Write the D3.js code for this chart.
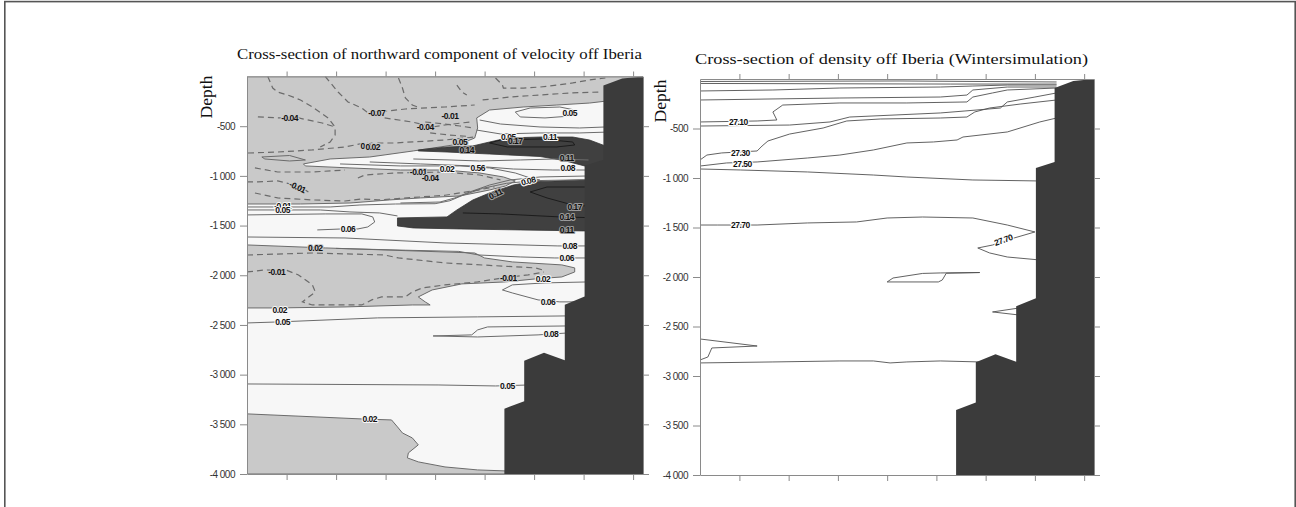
<!DOCTYPE html>
<html><head><meta charset="utf-8">
<script src="https://cdn.jsdelivr.net/npm/d3@7"></script>
<style>
html,body{margin:0;padding:0;background:#fff;}
svg{display:block;}
</style></head><body>
<svg id="c" width="1296" height="507"></svg>
<script>
// ================= DATA =================
const xTickValues = [40, 90, 140, 190, 240, 290, 340, 390];           // distance (km), unlabelled
const yTickValues = [-500, -1000, -1500, -2000, -2500, -3000, -3500, -4000];
const yTickLabels = ["-500", "-1 000", "-1 500", "-2 000", "-2 500", "-3 000", "-3 500", "-4 000"];
const titles = ["Cross-section of northward component of velocity off Iberia",
                "Cross-section of density off Iberia (Wintersimulation)"];
const axisTitle = "Depth";

// bathymetry (km, m)
const bathymetry = [[360,-91],[379,-20],[400,0],[400,-4000],[260,-4000],[260,-3343],[280,-3268],[280,-2860],
  [300,-2780],[321,-2855],[321,-2296],[341,-2215],[341,-899],[360,-838]];

// velocity: regions below 0.02 (light grey)
const velLowTop = [[0,0],[400,0],[400,-246],[364,-246],[346,-267],[313,-287],[279,-307],[245,-337],[232,-417],
  [233,-518],[230,-619],[215,-679],[195,-709],[168,-749],[124,-810],[84,-830],[57,-880],[59,-900],[104,-920],
  [155,-941],[200,-941],[235,-971],[259,-1011],[271,-1051],[261,-1102],[245,-1142],[215,-1202],[175,-1222],
  [144,-1242],[104,-1273],[54,-1283],[0,-1283]];
const velLowMid = [[0,-1695],[79,-1725],[230,-1776],[240,-1826],[268,-1866],[318,-1896],[331,-1926],[331,-1967],
  [318,-2017],[291,-2037],[261,-2067],[217,-2087],[187,-2148],[173,-2218],[180,-2268],[185,-2299],[167,-2299],
  [99,-2319],[31,-2329],[0,-2329]];
const velLowBottom = [[0,-3395],[116,-3446],[146,-3456],[152,-3526],[157,-3587],[167,-3637],[173,-3707],
  [163,-3788],[162,-3838],[173,-3878],[200,-3929],[233,-3959],[261,-3969],[261,-4000],[0,-4000]];
// velocity: cores above 0.11 (dark)
const velCoreUpper = [[173,-739],[202,-709],[228,-699],[245,-659],[263,-619],[296,-609],[329,-609],[346,-639],
  [362,-699],[366,-900],[341,-900],[320,-845],[296,-805],[245,-780],[202,-760],[173,-749]];
const velCoreLower = [[152,-1423],[202,-1413],[212,-1343],[228,-1243],[245,-1172],[269,-1092],[286,-1061],
  [336,-1041],[357,-1041],[357,-1554],[340,-1554],[276,-1544],[215,-1534],[168,-1524],[152,-1504]];

// velocity: positive contour lines (solid)
const velSolid = [
  [[271,-357],[286,-317],[316,-307],[331,-337],[328,-397],[301,-417],[276,-407],[271,-357]],
  [[235,-438],[256,-478],[296,-508],[336,-518],[362,-508]],
  [[232,-539],[256,-578],[296,-568],[336,-568],[362,-560]],
  [[15,-810],[43,-795],[59,-840],[43,-850],[18,-830],[15,-810]],
  [[168,-830],[205,-840],[235,-850],[276,-840],[311,-830],[345,-840]],
  [[124,-860],[175,-880],[228,-900],[269,-931],[309,-941],[345,-941]],
  [[94,-880],[155,-900],[215,-900],[245,-920],[271,-971],[286,-1021],[296,-1041]],
  [[155,-1273],[195,-1263],[210,-1222],[225,-1162],[245,-1092],[266,-1041],[296,-1011],[345,-1001]],
  [[0,-1313],[84,-1313],[114,-1293],[150,-1283],[190,-1280],[205,-1250],[218,-1195],[238,-1125],[262,-1075],[290,-1048],[345,-1038]],
  [[0,-1343],[74,-1343],[104,-1363],[134,-1373],[152,-1403]],
  [[71,-1544],[96,-1534],[112,-1534],[122,-1514],[129,-1464],[127,-1413],[116,-1383],[79,-1383],[0,-1393]],
  [[0,-1615],[99,-1625],[200,-1675],[314,-1705],[345,-1705]],
  [[90,-1730],[160,-1748],[214,-1760],[234,-1796],[276,-1816],[311,-1826],[345,-1826]],
  [[345,-2067],[301,-2077],[268,-2097],[258,-2148],[268,-2178],[294,-2248],[316,-2268],[340,-2268]],
  [[0,-2480],[31,-2470],[132,-2429],[233,-2419],[325,-2409]],
  [[325,-2510],[243,-2520],[233,-2550],[227,-2600],[188,-2611],[233,-2621],[294,-2600],[325,-2580]],
  [[0,-3094],[193,-3104],[251,-3114],[285,-3104]]
];
// velocity: contours inside the cores
const velCoreLines = [
  [[245,-669],[256,-639],[296,-629],[329,-659],[331,-689],[313,-709],[263,-709],[245,-669]],
  [[357,-1112],[303,-1112],[286,-1162],[303,-1222],[329,-1293],[357,-1313]],
  [[218,-1373],[256,-1383],[316,-1413],[357,-1423]]
];
// velocity: negative contour lines (dashed)
const velDashed = [
  [[21,0],[26,-116],[31,-156],[41,-186],[54,-236],[66,-307],[82,-417],[89,-508],[89,-589],[84,-659],[74,-709]],
  [[11,-407],[33,-417],[52,-417],[76,-468],[89,-508]],
  [[79,0],[92,-156],[102,-256],[116,-317],[121,-357],[142,-347],[160,-327],[200,-307],[230,-287]],
  [[153,-15],[157,-116],[160,-216],[167,-287],[175,-317]],
  [[139,-417],[167,-458],[187,-508],[200,-488],[225,-458]],
  [[1,-770],[31,-760],[66,-739],[99,-709],[119,-669],[149,-669],[200,-639],[230,-609]],
  [[212,-86],[217,-156],[222,-186]],
  [[251,-15],[258,-86],[259,-116],[279,-116],[296,-106],[313,-86],[329,-65],[346,-35],[362,-15]],
  [[238,-236],[266,-206],[296,-186],[326,-166],[357,-156]],
  [[180,-458],[200,-478],[215,-498],[228,-518]],
  [[185,-568],[205,-589],[225,-604]],
  [[0,-1061],[11,-1061],[31,-1051],[48,-1092],[59,-1142],[62,-1162]],
  [[8,-1172],[31,-1222],[66,-1242],[99,-1253],[116,-1232],[132,-1242],[200,-1195],[235,-1140],[250,-1110]],
  [[112,-1021],[119,-991],[149,-971],[200,-961],[235,-991],[256,-1041]],
  [[8,-920],[31,-961],[66,-961],[99,-941]],
  [[0,-1796],[66,-1776],[139,-1796],[153,-1826],[200,-1876],[291,-1926],[300,-1950]],
  [[0,-1967],[18,-1947],[40,-1950],[52,-1997],[66,-2097],[69,-2168],[56,-2268],[66,-2299],[116,-2299],[126,-2248],
   [136,-2218],[160,-2218],[167,-2168],[177,-2128],[200,-2097],[233,-2067],[258,-2027],[284,-1997],[300,-1967]]
];
// velocity contour labels: text, km, m, angle
const velLabels = [
  ["-0.04",43,-417,0],["-0.07",131,-367,0],["-0.04",180,-508,0],["-0.01",205,-397,0],["0.05",326,-367,0],
  ["0.04",122,-699,0],["0.02",127,-712,0],["0.05",215,-659,0],["0.14",222,-739,0],["0.05",264,-609,0],
  ["0.17",271,-649,0],["0.11",306,-609,0],["0.11",323,-820,0],["0.08",324,-920,0],["0.56",233,-920,0],
  ["0.02",202,-930,0],["-0.01",173,-961,0],["-0.04",185,-1021,0],["-0.01",51,-1112,25],["0.08",284,-1051,-15],
  ["0.11",251,-1182,-25],["0.17",331,-1313,0],["0.14",323,-1413,0],["0.11",323,-1544,0],["-0.01",36,-1303,0],
  ["0.05",36,-1343,0],["0.06",102,-1534,0],["0.08",326,-1705,0],["0.02",69,-1725,0],["0.06",323,-1826,0],
  ["-0.01",30,-1967,0],["-0.01",264,-2027,0],["0.02",299,-2037,0],["0.06",304,-2268,0],["0.02",33,-2349,0],
  ["0.05",36,-2470,0],["0.08",307,-2590,0],["0.05",263,-3114,0],["0.02",124,-3446,0]
];

// density contour lines
const densLines = [
  [[0,-25],[203,-20],[362,-30]],
  [[0,-45],[254,-51],[362,-51]],
  [[0,-121],[74,-111],[142,-91],[244,-81],[277,-71],[312,-61],[362,-61]],
  [[0,-212],[142,-192],[244,-182],[271,-162],[277,-111],[312,-81],[362,-81]],
  [[0,-434],[58,-424],[78,-414],[74,-333],[84,-263],[142,-242],[210,-242],[271,-232],[277,-182],[297,-141],[312,-111],[362,-91]],
  [[0,-475],[91,-465],[132,-434],[152,-384],[244,-343],[269,-323],[305,-293],[312,-232],[340,-182],[362,-141]],
  [[0,-818],[7,-768],[22,-747],[58,-727],[63,-677],[69,-626],[91,-556],[125,-495],[149,-424],[183,-404],[244,-394],
   [271,-384],[279,-333],[294,-293],[325,-253],[362,-212]],
  [[0,-879],[27,-848],[58,-838],[109,-798],[142,-768],[176,-717],[210,-646],[237,-636],[261,-616],[267,-586],
   [312,-535],[345,-434],[362,-394]],
  [[0,-909],[41,-919],[109,-939],[176,-970],[210,-990],[277,-1020],[345,-1030]],
  [[0,-1475],[18,-1475],[58,-1475],[109,-1454],[159,-1444],[190,-1404],[226,-1394],[277,-1404],[312,-1475],
   [340,-1545],[312,-1626],[297,-1677],[282,-1707],[294,-1757],[312,-1798],[345,-1828]],
  [[190,-2050],[196,-2010],[226,-1964],[244,-1959],[284,-1955],[250,-1962],[246,-2030],[242,-2050],[190,-2050]],
  [[324,-2313],[297,-2353],[324,-2384]],
  [[0,-2626],[58,-2697],[12,-2717],[8,-2808],[0,-2838]],
  [[0,-2868],[74,-2858],[142,-2848],[176,-2848],[193,-2868],[210,-2858],[244,-2848],[284,-2858]]
];
const densLabels = [["27.10",39,-434,0],["27.30",41,-747,0],["27.50",43,-859,0],["27.70",41,-1475,0],["27.70",308,-1626,-20]];

// ================= DRAWING =================
const svg = d3.select("#c");
svg.append("rect").attr("x",4.8).attr("y",1.6).attr("width",1290.4).attr("height",540)
  .attr("fill","none").attr("stroke","#555").attr("stroke-width",1.6);

const COL = {low:"#c9c9c9", high:"#f7f7f7", core:"#404040", land:"#3b3b3b", line:"#6b6b6b", frame:"#8a8a8a"};

function makePanel(o){
  const x = d3.scaleLinear().domain([0,400]).range([o.left,o.right]);
  const y = d3.scaleLinear().domain([0,-4000]).range([o.top,o.bottom]);
  const line = d3.line().x(d=>x(d[0])).y(d=>y(d[1]));
  svg.append("clipPath").attr("id",o.id).append("rect")
    .attr("x",o.left).attr("y",o.top).attr("width",o.right-o.left).attr("height",o.bottom-o.top);
  const g = svg.append("g").attr("clip-path",`url(#${o.id})`);
  return {x,y,line,g};
}

function axes(p,o){
  const tickText = s => s.selectAll("text").attr("font-family","Liberation Sans, Arial, sans-serif")
    .attr("font-size",10).attr("letter-spacing","-0.5px").attr("fill","#333");
  const style = s => { s.select(".domain").attr("stroke",COL.frame).attr("stroke-width",1);
    s.selectAll(".tick line").attr("stroke",COL.frame).attr("stroke-width",1); };
  svg.append("g").attr("transform",`translate(${o.left},0)`)
    .call(d3.axisLeft(p.y).tickValues(yTickValues).tickFormat((d,i)=>yTickLabels[i]).tickSize(7).tickPadding(5).tickSizeOuter(0))
    .call(style).call(tickText);
  svg.append("g").attr("transform",`translate(${o.right},0)`)
    .call(d3.axisRight(p.y).tickValues(yTickValues).tickFormat("").tickSize(6).tickSizeOuter(0)).call(style);
  svg.append("g").attr("transform",`translate(0,${o.top})`)
    .call(d3.axisTop(p.x).tickValues(xTickValues).tickFormat("").tickSize(5).tickSizeOuter(0)).call(style);
  svg.append("g").attr("transform",`translate(0,${o.bottom})`)
    .call(d3.axisBottom(p.x).tickValues(xTickValues).tickFormat("").tickSize(6).tickSizeOuter(0)).call(style);
  svg.selectAll(".domain").attr("fill","none");
  svg.append("text").text(o.title).attr("x",o.titleX).attr("y",o.titleY).attr("text-anchor","middle")
    .attr("font-family","Liberation Serif, Times New Roman, serif").attr("font-size",o.titleSize)
    .attr("textLength",o.titleLen).attr("lengthAdjust","spacingAndGlyphs").attr("fill","#111");
  svg.append("text").text(axisTitle).attr("transform",`translate(${o.depthX},${o.depthY}) rotate(-90)`)
    .attr("text-anchor","middle").attr("font-family","Liberation Serif, Times New Roman, serif")
    .attr("font-size",17.5).attr("fill","#111");
}

function labels(p, list, bgFn){
  list.forEach(([t,xv,yv,a])=>{
    const bg = bgFn([xv,yv]);
    svg.append("text").text(t)
      .attr("transform",`translate(${p.x(xv)},${p.y(yv)}) rotate(${a + 0.01})`)
      .attr("text-anchor","middle").attr("dy","0.35em")
      .attr("font-family","Liberation Sans, Arial, sans-serif").attr("font-weight","bold")
      .attr("font-size",8.5).attr("letter-spacing","-0.5px")
      .attr("fill", bg.fill).attr("stroke",bg.halo).attr("stroke-width",2.2)
      .attr("paint-order","stroke").attr("stroke-linejoin","round");
  });
}

// ---------- left panel : velocity ----------
const oL = {id:"clipL",left:247,right:643,top:76.5,bottom:474,title:titles[0],titleX:439.5,titleY:59,titleSize:15,titleLen:405,depthX:212,depthY:97};
const pL = makePanel(oL);
pL.g.append("rect").attr("x",oL.left).attr("y",oL.top).attr("width",oL.right-oL.left).attr("height",oL.bottom-oL.top).attr("fill",COL.high);
[velLowTop, velLowMid, velLowBottom].forEach(poly=>{
  pL.g.append("path").attr("d",pL.line(poly)+"Z").attr("fill",COL.low).attr("stroke",COL.line).attr("stroke-width",1);
});
[velCoreUpper, velCoreLower].forEach(poly=>{
  pL.g.append("path").attr("d",pL.line(poly)+"Z").attr("fill",COL.core).attr("stroke","#333").attr("stroke-width",0.8);
});
velSolid.forEach(l=> pL.g.append("path").attr("d",pL.line(l)).attr("fill","none").attr("stroke",COL.line).attr("stroke-width",1));
velCoreLines.forEach(l=> pL.g.append("path").attr("d",pL.line(l)).attr("fill","none").attr("stroke","#1c1c1c").attr("stroke-width",1));
velDashed.forEach(l=> pL.g.append("path").attr("d",pL.line(l)).attr("fill","none").attr("stroke",COL.line)
  .attr("stroke-width",1.2).attr("stroke-dasharray","6,4"));
pL.g.append("path").attr("d",pL.line(bathymetry)+"Z").attr("fill",COL.land);
axes(pL,oL);
labels(pL, velLabels, pt=>{
  if ([velCoreUpper,velCoreLower,bathymetry].some(pl=>d3.polygonContains(pl,pt))) return {fill:"#111",halo:"#9a9a9a"};
  if ([velLowTop,velLowMid,velLowBottom].some(pl=>d3.polygonContains(pl,pt))) return {fill:"#111",halo:COL.low};
  return {fill:"#111",halo:COL.high};
});

// ---------- right panel : density ----------
const oR = {id:"clipR",left:700,right:1094,top:79,bottom:475,title:titles[1],titleX:891.5,titleY:64,titleSize:15.5,titleLen:393,depthX:666,depthY:101};
const pR = makePanel(oR);
pR.g.append("rect").attr("x",oR.left).attr("y",oR.top).attr("width",oR.right-oR.left).attr("height",oR.bottom-oR.top).attr("fill","#fff");
densLines.forEach(l=> pR.g.append("path").attr("d",pR.line(l)).attr("fill","none").attr("stroke","#505050").attr("stroke-width",0.9));
pR.g.append("path").attr("d",pR.line(bathymetry)+"Z").attr("fill",COL.land);
axes(pR,oR);
labels(pR, densLabels, ()=>({fill:"#111",halo:"#fff"}));
</script>
</body></html>
